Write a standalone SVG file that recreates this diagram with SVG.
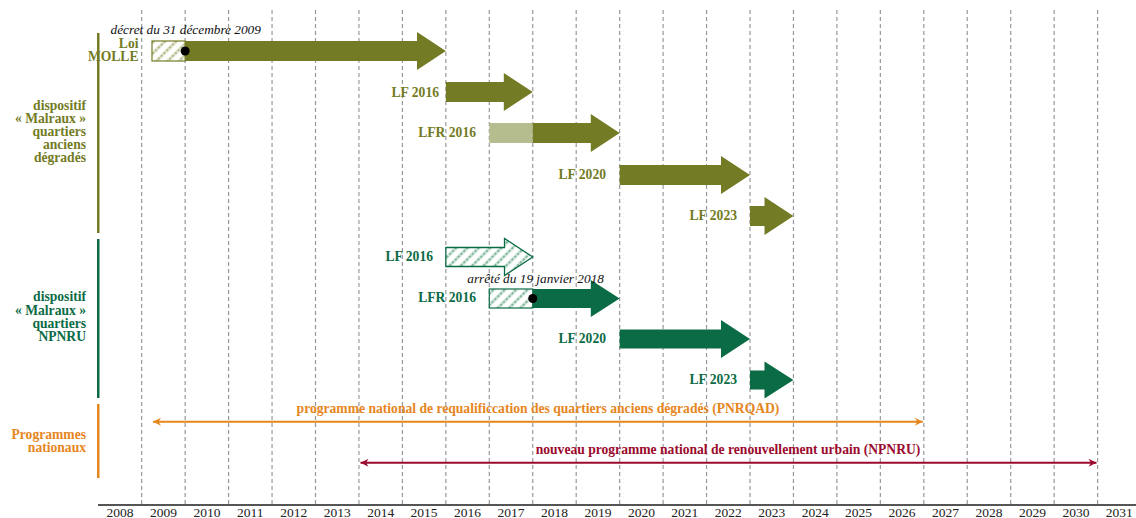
<svg xmlns="http://www.w3.org/2000/svg" width="1136" height="518" viewBox="0 0 1136 518">
<style>
.grid{stroke:#999;stroke-width:1.2;stroke-dasharray:4 3;fill:none}
.lbl{font-family:"Liberation Serif","DejaVu Serif",serif;font-weight:bold;font-size:13.6px}
.ol{fill:#737b24}
.gr{fill:#0b6b45}
.or{fill:#e6861e}
.rd{fill:#9b0a2e}
.it{font-family:"Liberation Serif","DejaVu Serif",serif;font-style:italic;font-size:13.3px;fill:#111}
.yr{font-family:"Liberation Serif","DejaVu Serif",serif;font-size:13.5px;fill:#222;text-anchor:middle}
.end{text-anchor:end}
.mid{text-anchor:middle}
</style>
<defs>
<pattern id="hatchO" width="8" height="8" patternUnits="userSpaceOnUse" patternTransform="rotate(45)">
<rect width="8" height="8" fill="#ffffff"/>
<rect x="0" y="0" width="3.5" height="8" fill="#e6e9d6"/>
<line x1="1.8" y1="0" x2="1.8" y2="8" stroke="#a9b07a" stroke-width="1.6" stroke-dasharray="2.5 1.5"/>
</pattern>
<pattern id="hatchG" width="8" height="8" patternUnits="userSpaceOnUse" patternTransform="rotate(45)">
<rect width="8" height="8" fill="#ffffff"/>
<rect x="0" y="0" width="3.5" height="8" fill="#d6e9df"/>
<line x1="1.8" y1="0" x2="1.8" y2="8" stroke="#6fae8e" stroke-width="1.6" stroke-dasharray="2.5 1.5"/>
</pattern>
<marker id="mO" viewBox="-9 -5 10 10" refX="0" refY="0" markerWidth="10" markerHeight="10" markerUnits="userSpaceOnUse" orient="auto-start-reverse">
<path d="M0,0 L-8,-4 L-5.5,0 L-8,4 Z" fill="#e6861e"/>
</marker>
<marker id="mR" viewBox="-9 -5 10 10" refX="0" refY="0" markerWidth="10" markerHeight="10" markerUnits="userSpaceOnUse" orient="auto-start-reverse">
<path d="M0,0 L-8,-4 L-5.5,0 L-8,4 Z" fill="#9b0a2e"/>
</marker>
</defs>
<rect width="1136" height="518" fill="#ffffff"/>

<g id="grid">
<line class="grid" x1="141.7" y1="10" x2="141.7" y2="505"/>
<line class="grid" x1="185.15" y1="10" x2="185.15" y2="505"/>
<line class="grid" x1="228.6" y1="10" x2="228.6" y2="505"/>
<line class="grid" x1="272.05" y1="10" x2="272.05" y2="505"/>
<line class="grid" x1="315.5" y1="10" x2="315.5" y2="505"/>
<line class="grid" x1="358.95" y1="10" x2="358.95" y2="505"/>
<line class="grid" x1="402.4" y1="10" x2="402.4" y2="505"/>
<line class="grid" x1="445.85" y1="10" x2="445.85" y2="505"/>
<line class="grid" x1="489.3" y1="10" x2="489.3" y2="505"/>
<line class="grid" x1="532.75" y1="10" x2="532.75" y2="505"/>
<line class="grid" x1="576.2" y1="10" x2="576.2" y2="505"/>
<line class="grid" x1="619.65" y1="10" x2="619.65" y2="505"/>
<line class="grid" x1="663.1" y1="10" x2="663.1" y2="505"/>
<line class="grid" x1="706.55" y1="10" x2="706.55" y2="505"/>
<line class="grid" x1="750" y1="10" x2="750" y2="505"/>
<line class="grid" x1="793.45" y1="10" x2="793.45" y2="505"/>
<line class="grid" x1="836.9" y1="10" x2="836.9" y2="505"/>
<line class="grid" x1="880.35" y1="10" x2="880.35" y2="505"/>
<line class="grid" x1="923.8" y1="10" x2="923.8" y2="505"/>
<line class="grid" x1="967.25" y1="10" x2="967.25" y2="505"/>
<line class="grid" x1="1010.7" y1="10" x2="1010.7" y2="505"/>
<line class="grid" x1="1054.15" y1="10" x2="1054.15" y2="505"/>
<line class="grid" x1="1097.6" y1="10" x2="1097.6" y2="505"/>
</g>

<g id="axis">
<line x1="98" y1="505" x2="1136" y2="505" stroke="#555" stroke-width="2"/>
<text class="yr" x="120" y="517">2008</text>
<text class="yr" x="163.4" y="517">2009</text>
<text class="yr" x="206.9" y="517">2010</text>
<text class="yr" x="250.3" y="517">2011</text>
<text class="yr" x="293.8" y="517">2012</text>
<text class="yr" x="337.2" y="517">2013</text>
<text class="yr" x="380.7" y="517">2014</text>
<text class="yr" x="424.1" y="517">2015</text>
<text class="yr" x="467.6" y="517">2016</text>
<text class="yr" x="511" y="517">2017</text>
<text class="yr" x="554.5" y="517">2018</text>
<text class="yr" x="597.9" y="517">2019</text>
<text class="yr" x="641.4" y="517">2020</text>
<text class="yr" x="684.8" y="517">2021</text>
<text class="yr" x="728.3" y="517">2022</text>
<text class="yr" x="771.7" y="517">2023</text>
<text class="yr" x="815.2" y="517">2024</text>
<text class="yr" x="858.6" y="517">2025</text>
<text class="yr" x="902.1" y="517">2026</text>
<text class="yr" x="945.5" y="517">2027</text>
<text class="yr" x="989" y="517">2028</text>
<text class="yr" x="1032.4" y="517">2029</text>
<text class="yr" x="1075.9" y="517">2030</text>
<text class="yr" x="1119.3" y="517">2031</text>
</g>

<g id="group-labels">
<rect x="97" y="33" width="2.5" height="200" fill="#737b24"/>
<rect x="97" y="239" width="2.5" height="159" fill="#0b6b45"/>
<rect x="97" y="404" width="2.5" height="74" fill="#e6861e"/>
<text class="lbl ol end" x="86" y="110">dispositif</text>
<text class="lbl ol end" x="86" y="123">« Malraux »</text>
<text class="lbl ol end" x="86" y="136">quartiers</text>
<text class="lbl ol end" x="86" y="149">anciens</text>
<text class="lbl ol end" x="86" y="162">dégradés</text>
<text class="lbl gr end" x="86" y="301">dispositif</text>
<text class="lbl gr end" x="86" y="314.5">« Malraux »</text>
<text class="lbl gr end" x="86" y="328">quartiers</text>
<text class="lbl gr end" x="86" y="341.3">NPNRU</text>
<text class="lbl or end" x="86" y="438.5">Programmes</text>
<text class="lbl or end" x="86" y="451.5">nationaux</text>
</g>

<g id="loi-molle">
<rect x="152" y="41" width="33.15" height="20" fill="url(#hatchO)" stroke="#737b24" stroke-width="1.2"/>
<path d="M185.15,41 H417 V32 L445.85,51 L417,70 V61 H185.15 Z" class="ol"/>
<circle cx="185.15" cy="51" r="4.5" fill="#000"/>
<text class="it" x="110.5" y="34">décret du 31 décembre 2009</text>
<text class="lbl ol end" x="138.5" y="47.5">Loi</text>
<text class="lbl ol end" x="138.5" y="60.5">MOLLE</text>
</g>

<g id="ol-lf2016">
<path d="M445.85,82 H503.8 V73 L532.75,92 L503.8,111 V102 H445.85 Z" class="ol"/>
<text class="lbl ol end" x="439" y="96.5">LF 2016</text>
</g>

<g id="ol-lfr2016">
<rect x="489.3" y="123" width="43.45" height="20" fill="#b5bc8e"/>
<path d="M532.75,123 H590.8 V114 L619.65,133 L590.8,152 V143 H532.75 Z" class="ol"/>
<text class="lbl ol end" x="476" y="137">LFR 2016</text>
</g>

<g id="ol-lf2020">
<path d="M619.65,165 H721 V156 L750,175 L721,194 V185 H619.65 Z" class="ol"/>
<text class="lbl ol end" x="606" y="178.5">LF 2020</text>
</g>

<g id="ol-lf2023">
<path d="M750,206 H764.5 V197 L793.45,216 L764.5,235 V226 H750 Z" class="ol"/>
<text class="lbl ol end" x="737" y="219.5">LF 2023</text>
</g>

<g id="gr-lf2016">
<path d="M445.85,247.5 H504.5 V238.5 L532.75,257 L504.5,275.5 V266.5 H445.85 Z" fill="url(#hatchG)" stroke="#0b6b45" stroke-width="1.3"/>
<text class="lbl gr end" x="433" y="260.5">LF 2016</text>
</g>

<g id="gr-lfr2016">
<rect x="489.3" y="289" width="43.45" height="19" fill="url(#hatchG)" stroke="#0b6b45" stroke-width="1.2"/>
<path d="M532.75,289 H590.8 V280 L619.65,298.5 L590.8,317 V308 H532.75 Z" class="gr"/>
<circle cx="532.75" cy="298.5" r="4.5" fill="#000"/>
<text class="it" x="467.3" y="282.5">arrêté du 19 janvier 2018</text>
<text class="lbl gr end" x="476" y="302">LFR 2016</text>
</g>

<g id="gr-lf2020">
<path d="M619.65,329.5 H721 V320 L750,339 L721,358 V348.5 H619.65 Z" class="gr"/>
<text class="lbl gr end" x="606" y="342.5">LF 2020</text>
</g>

<g id="gr-lf2023">
<path d="M750,370.5 H764.5 V361.5 L793.45,380 L764.5,398.5 V389.5 H750 Z" class="gr"/>
<text class="lbl gr end" x="737" y="384">LF 2023</text>
</g>

<g id="connectors">
<line x1="153" y1="421.7" x2="922.8" y2="421.7" stroke="#e6861e" stroke-width="2" marker-start="url(#mO)" marker-end="url(#mO)"/>
<line x1="360.5" y1="462.7" x2="1096.5" y2="462.7" stroke="#9b0a2e" stroke-width="2" marker-start="url(#mR)" marker-end="url(#mR)"/>
</g>

<g id="programme-labels">
<text class="lbl or mid" x="538" y="412.5">programme national de requalificcation des quartiers anciens dégradés (PNRQAD)</text>
<text class="lbl rd mid" x="728" y="453.5">nouveau programme national de renouvellement urbain (NPNRU)</text>
</g>
</svg>
